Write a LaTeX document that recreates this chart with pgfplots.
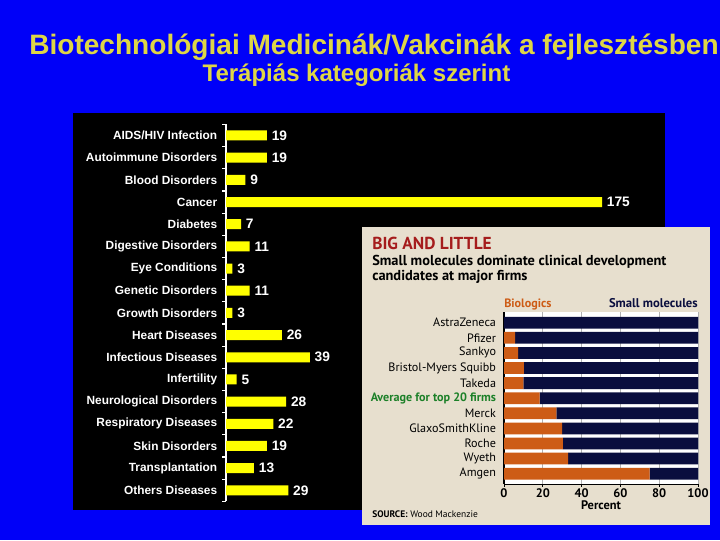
\documentclass[border=0pt]{standalone}
\usepackage{pgfplots}
\pgfplotsset{compat=1.18}
\usepackage{fontspec}
\setmainfont{Liberation Sans}
\newfontfamily\ptsans{PT Sans}
\definecolor{bgblue}{RGB}{0,0,248}
\definecolor{titleY}{RGB}{222,214,70}
\definecolor{barY}{RGB}{255,255,0}
\definecolor{beige}{RGB}{231,223,206}
\definecolor{bioOr}{RGB}{205,92,22}
\definecolor{navy}{RGB}{10,14,62}
\definecolor{dred}{RGB}{165,28,28}
\definecolor{avgG}{RGB}{28,128,40}
\newcommand{\fs}[1]{\fontsize{#1}{#1}\selectfont}
\begin{document}
\begin{tikzpicture}[x=0.75pt,y=0.75pt]
\useasboundingbox (0,0) rectangle (720,540);
\fill[bgblue] (0,0) rectangle (720,540);
\node[anchor=base, text=titleY, font=\fs{21.05pt}\bfseries, inner sep=0pt] at (374,485) {Biotechnológiai Medicinák/Vakcinák a fejlesztésben};
\node[anchor=base, text=titleY, font=\fs{18pt}\bfseries, inner sep=0pt] at (356.5,458) {Terápiás kategoriák szerint};
\fill[black] (73,30) rectangle (665,427);
\begin{axis}[at={(169.5pt,311.7pt)}, anchor=north west, scale only axis,
  width=282pt, height=282.75pt, xbar, bar width=7.5pt,
  xmin=0, xmax=175, ymin=-0.5, ymax=16.5, y dir=reverse,
  /pgf/number format/assume math mode=true,
  axis x line=none, axis y line*=left,
  axis line style={white, line width=0.9pt},
  ytick={0,...,16},
  yticklabels={AIDS/HIV Infection, Autoimmune Disorders, Blood Disorders, Cancer, Diabetes, Digestive Disorders, Eye Conditions, Genetic Disorders, Growth Disorders, Heart Diseases, Infectious Diseases, Infertility, Neurological Disorders, Respiratory Diseases, Skin Disorders, Transplantation, Others Diseases},
  major tick length=0pt,
  minor ytick={-0.5,0.5,...,16.5}, minor tick length=3pt, tick align=outside,
  minor tick style={white, line width=0.9pt},
  yticklabel style={font=\fs{8.9pt}\bfseries, text=white, inner sep=0pt, xshift=-6.4pt},
  nodes near coords,
  nodes near coords style={font=\fs{10.3pt}\bfseries, text=white, anchor=west, inner sep=0pt, xshift=3.5pt},
  clip=false]
\addplot[fill=barY, draw=none] coordinates {(19,0) (19,1) (9,2) (175,3) (7,4) (11,5) (3,6) (11,7) (3,8) (26,9) (39,10) (5,11) (28,12) (22,13) (19,14) (13,15) (29,16)};
\end{axis}
\fill[beige] (362,15) rectangle (710,313);
\node[anchor=base west, text=dred, font=\ptsans\fs{13pt}\bfseries, inner sep=0pt] at (372,291) {BIG AND LITTLE};
\node[anchor=base west, text=black, font=\ptsans\fs{10.8pt}\bfseries, inner sep=0pt] at (372,274.3) {Small molecules dominate clinical development};
\node[anchor=base west, text=black, font=\ptsans\fs{10.8pt}\bfseries, inner sep=0pt] at (372,260) {candidates at major firms};
\node[anchor=base west, text=bioOr, font=\ptsans\fs{9.1pt}\bfseries, inner sep=0pt] at (504,232.3) {Biologics};
\node[anchor=base east, text=navy, font=\ptsans\fs{9.5pt}\bfseries, inner sep=0pt] at (698,232.3) {Small molecules};
\node[anchor=base west, text=black, font=\ptsans\fs{7.1pt}, inner sep=0pt] at (372,23) {\textbf{SOURCE:} Wood Mackenzie};
\begin{axis}[at={(378pt,170.775pt)}, anchor=north west, scale only axis,
  width=145.5pt, height=128.85pt, xbar stacked, bar width=8.85pt,
  xmin=0, xmax=100, ymin=-0.69, ymax=10.69, y dir=reverse,
  /pgf/number format/assume math mode=true,
  axis background/.style={fill=white},
  axis x line*=bottom, axis y line*=left,
  axis line style={black, line width=0.8pt},
  xmajorgrids, grid style={gray!60, line width=0.5pt},
  xtick={0,20,...,100}, ytick={0,...,10},
  yticklabels={AstraZeneca, Pfizer, Sankyo, Bristol-Myers Squibb, Takeda, \textcolor{avgG}{\bfseries Average for top 20 firms}, Merck, GlaxoSmithKline, Roche, Wyeth, Amgen},
  ytick style={draw=none}, xtick style={black, line width=0.6pt},
  major tick length=2pt, tick align=outside,
  yticklabel style={font=\ptsans\fs{9.1pt}, text=black, inner sep=0pt, xshift=-3.8pt},
  xticklabel style={font=\ptsans\fs{9.3pt}\bfseries, text=black, inner sep=1pt},
  xlabel={Percent}, xlabel style={font=\ptsans\fs{9.3pt}\bfseries, inner sep=0pt, yshift=-1pt},
  clip=false]
\addplot[fill=bioOr, draw=none] coordinates {(0,0) (5.7,1) (7.3,2) (10.2,3) (10,4) (18.4,5) (27,6) (30,7) (30.3,8) (33,9) (75,10)};
\addplot[fill=navy, draw=none] coordinates {(100,0) (94.3,1) (92.7,2) (89.8,3) (90,4) (81.6,5) (73,6) (70,7) (69.7,8) (67,9) (25,10)};
\end{axis}
\end{tikzpicture}
\end{document}
